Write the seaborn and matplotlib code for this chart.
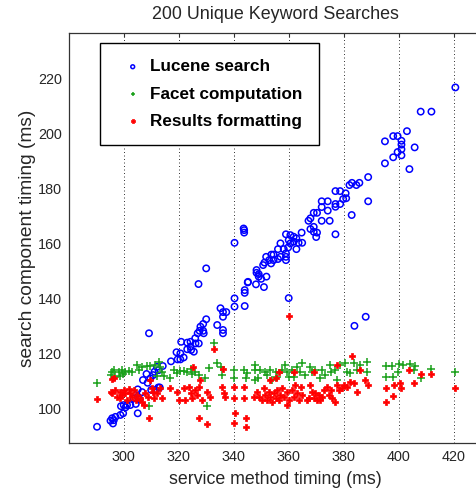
import matplotlib
matplotlib.use("Agg")
import matplotlib.pyplot as plt
import seaborn as sns
import pandas as pd

# ---- data ----
lucene_x = [420.6, 408.0, 411.9, 403.0, 395.0, 398.0, 399.6, 401.0, 401.0, 401.0, 405.8, 399.6, 398.0, 401.0,
            395.0, 403.9, 388.9, 385.7, 383.0, 382.1, 384.6, 380.7, 377.0, 378.7, 388.9, 379.8, 380.9, 378.7,
            377.0, 377.0, 382.9, 372.0, 374.2, 372.0, 374.2, 369.1, 370.3, 367.2, 367.9, 372.0, 374.9, 377.0,
            367.9, 369.1, 369.1, 370.3, 370.0, 364.7, 359.0, 360.6, 361.8, 362.8, 361.8, 363.6, 364.9, 360.0,
            360.6, 362.8, 359.8, 358.2, 357.0, 356.1, 359.0, 359.0, 359.0, 357.0, 354.5, 353.7, 354.5, 352.9,
            356.1, 351.8, 351.2, 350.7, 353.6, 348.3, 348.3, 349.1, 350.0, 351.9, 345.1, 348.1, 351.0, 344.0,
            344.0, 344.0, 360.0, 343.8, 343.8, 343.6, 340.3, 330.0, 327.2, 340.3, 340.3, 335.2, 336.1, 337.3,
            336.1, 330.0, 345.2, 349.1, 334.0, 336.1, 336.1, 328.9, 327.9, 327.6, 328.9, 329.1, 326.9, 326.0,
            324.3, 323.1, 320.9, 326.1, 327.3, 324.3, 325.5, 323.1, 324.5, 320.6, 319.2, 321.8, 320.6, 319.6,
            317.2, 314.2, 312.1, 312.7, 311.2, 310.7, 308.3, 309.7, 307.0, 308.7, 312.6, 313.1, 311.6, 310.0,
            309.2, 305.1, 306.7, 305.1, 303.6, 305.8, 304.4, 302.4, 301.2, 300.0, 299.0, 300.7, 299.8, 298.8,
            297.0, 295.8, 296.4, 295.2, 296.1, 290.3, 305.1, 383.9, 388.0]
lucene_y = [216.7, 207.9, 207.9, 200.8, 197.1, 199.0, 199.0, 197.3, 195.9, 194.2, 194.9, 193.2, 191.3, 192.0,
            189.1, 187.0, 184.1, 182.0, 182.0, 181.2, 181.2, 178.2, 179.0, 179.0, 175.3, 176.1, 176.4, 174.3,
            174.3, 173.3, 170.3, 175.3, 175.3, 173.2, 171.9, 171.1, 171.1, 168.2, 169.1, 168.2, 168.2, 163.3,
            165.2, 166.0, 164.2, 163.9, 162.3, 163.9, 163.3, 163.0, 162.4, 161.8, 160.6, 160.2, 160.2, 161.2,
            160.0, 157.9, 158.5, 157.9, 160.0, 157.9, 156.4, 155.1, 153.9, 155.1, 155.9, 155.9, 153.9, 153.9,
            154.3, 155.1, 153.0, 152.1, 152.7, 150.3, 149.3, 148.8, 147.1, 147.9, 145.8, 145.1, 144.1, 143.0,
            142.0, 137.2, 140.1, 164.8, 163.9, 165.4, 160.2, 150.9, 145.2, 140.0, 137.0, 136.4, 135.0, 135.0,
            133.3, 132.4, 146.0, 147.9, 130.3, 128.5, 127.3, 130.7, 129.7, 128.2, 128.2, 127.3, 127.3, 125.5,
            124.2, 123.9, 124.2, 123.6, 123.6, 122.4, 120.6, 121.5, 121.2, 120.0, 120.4, 118.5, 117.8, 117.8,
            117.1, 115.4, 115.1, 113.9, 113.3, 112.1, 112.5, 110.9, 110.3, 109.3, 107.6, 107.6, 106.7, 106.7,
            127.3, 106.9, 105.9, 104.2, 103.6, 103.3, 101.6, 101.2, 101.2, 101.2, 100.8, 100.4, 98.2, 97.6,
            96.9, 96.4, 95.7, 95.5, 94.5, 93.3, 98.2, 130.0, 133.3]

facet_x = [290.3, 295.8, 296.4, 295.4, 297.0, 298.2, 299.4, 298.8, 299.8, 300.6, 301.8, 303.1, 304.9, 305.5,
           306.7, 308.3, 309.7, 311.2, 313.0, 313.3, 314.0, 314.5, 309.1, 312.1, 318.2, 317.0, 319.4, 320.6,
           322.1, 323.1, 324.3, 324.9, 326.1, 327.3, 329.7, 330.3, 330.9, 334.0, 335.2, 335.8, 333.0, 340.0,
           340.0, 343.9, 344.3, 344.9, 347.9, 348.7, 347.9, 349.7, 347.9, 351.5, 352.1, 353.3, 354.0, 355.2,
           355.8, 357.6, 358.8, 359.2, 360.0, 361.2, 361.8, 363.1, 364.0, 364.9, 366.1, 367.9, 368.5, 369.7,
           371.5, 372.1, 373.3, 374.9, 375.4, 377.0, 377.6, 378.8, 380.6, 381.2, 382.4, 383.6, 384.9, 386.1,
           388.5, 388.5, 395.2, 395.2, 397.6, 398.0, 399.6, 400.0, 401.6, 404.0, 405.5, 406.1, 408.1, 411.8,
           420.6]
facet_y = [109.3, 113.3, 113.9, 112.1, 111.5, 113.3, 113.9, 111.7, 112.5, 113.3, 113.6, 113.3, 115.7, 113.9,
           115.1, 115.4, 115.4, 115.7, 116.9, 115.1, 113.3, 111.7, 100.8, 111.7, 113.9, 110.9, 112.7, 113.7,
           113.7, 113.3, 114.2, 112.5, 113.3, 112.1, 111.1, 100.8, 114.5, 116.4, 115.1, 112.1, 123.6, 113.9,
           110.9, 113.9, 110.9, 112.7, 113.9, 110.9, 115.7, 113.9, 110.3, 113.3, 112.1, 113.9, 110.3, 113.3,
           111.5, 113.9, 115.7, 113.3, 111.5, 113.9, 111.5, 115.1, 113.3, 116.4, 112.1, 115.1, 113.3, 113.9,
           110.9, 113.9, 112.1, 115.7, 113.3, 113.9, 110.3, 115.7, 116.4, 113.3, 112.7, 116.4, 113.9, 115.7,
           116.9, 113.3, 115.4, 111.3, 115.4, 111.3, 113.3, 116.1, 115.7, 116.1, 113.9, 115.4, 110.9, 114.2,
           113.3]

results_x = [290.3, 295.8, 296.4, 295.2, 295.8, 297.0, 297.6, 298.5, 298.8, 299.4, 300.0, 300.6, 301.2, 301.8,
             302.4, 303.1, 303.9, 304.3, 304.9, 306.1, 306.7, 307.3, 307.9, 308.7, 309.1, 309.7, 310.3, 310.7,
             310.9, 312.1, 313.3, 314.0, 317.0, 319.4, 320.0, 321.8, 322.4, 323.6, 324.3, 324.9, 325.2, 326.1,
             326.7, 327.3, 327.9, 328.5, 330.3, 331.5, 332.7, 335.8, 336.1, 336.4, 337.0, 327.3, 330.3, 340.0,
             340.0, 340.0, 340.6, 343.6, 343.9, 344.3, 344.3, 347.3, 360.0, 348.5, 349.1, 350.3, 350.9, 351.5,
             352.1, 352.7, 353.3, 354.0, 354.5, 355.2, 355.8, 356.4, 357.0, 357.6, 358.2, 359.2, 359.4, 360.0,
             361.2, 361.8, 362.4, 363.1, 363.6, 364.3, 364.9, 366.7, 367.3, 367.9, 368.5, 369.1, 369.7, 370.3,
             370.9, 371.5, 372.1, 372.7, 374.0, 374.5, 375.2, 375.8, 377.0, 377.4, 377.6, 378.2, 379.4, 380.0,
             381.2, 382.4, 383.1, 383.6, 384.9, 386.1, 387.9, 388.7, 353.3, 355.2, 356.4, 361.8, 369.1, 395.2,
             395.2, 398.0, 398.4, 400.4, 400.9, 403.6, 405.5, 408.1, 411.8, 420.6]
results_y = [103.3, 110.5, 110.9, 106.0, 105.5, 106.7, 104.2, 106.0, 103.6, 104.8, 106.7, 105.5, 103.0, 106.9,
             105.5, 104.2, 106.7, 103.0, 104.8, 103.6, 102.4, 101.2, 105.5, 104.2, 96.4, 110.3, 107.3, 106.0,
             103.6, 105.5, 107.3, 103.6, 107.3, 106.0, 103.0, 107.3, 103.0, 107.9, 105.5, 103.6, 115.1, 106.7,
             104.8, 107.9, 110.3, 103.0, 106.0, 104.2, 121.5, 107.9, 114.2, 105.5, 104.2, 96.4, 94.3, 107.6,
             103.6, 94.8, 98.2, 107.6, 103.6, 96.4, 93.3, 104.2, 133.6, 106.0, 104.2, 103.0, 107.3, 104.8,
             103.0, 106.0, 104.2, 102.4, 105.5, 103.6, 106.7, 103.0, 104.8, 107.3, 104.2, 101.2, 106.0, 103.0,
             106.7, 104.2, 108.5, 105.5, 103.0, 107.9, 104.8, 103.0, 103.6, 108.5, 106.0, 103.6, 105.5, 103.0,
             104.8, 103.0, 104.2, 106.7, 107.9, 104.8, 106.7, 103.6, 102.4, 115.7, 108.5, 106.7, 107.3, 108.5,
             107.9, 109.7, 119.0, 109.1, 106.0, 113.9, 110.3, 108.5, 110.3, 110.9, 113.3, 113.3, 113.3, 107.3,
             102.4, 104.5, 108.5, 109.1, 107.3, 113.9, 109.1, 112.5, 112.5, 107.3]

series_names = ["Lucene search", "Facet computation", "Results formatting"]
x_ticks = [300, 320, 340, 360, 380, 400, 420]
y_ticks = [100, 120, 140, 160, 180, 200, 220]

df_l = pd.DataFrame({"x": lucene_x, "y": lucene_y})
df_f = pd.DataFrame({"x": facet_x, "y": facet_y})
df_r = pd.DataFrame({"x": results_x, "y": results_y})

sns.set_theme(style="white")
plt.rcParams["font.family"] = ["Liberation Sans", "DejaVu Sans"]

fig = plt.figure(figsize=(4.76, 4.88), dpi=100)
ax = fig.add_axes([68.7 / 476, 45 / 488, 412.5 / 476, 410.3 / 488])

sns.scatterplot(data=df_l, x="x", y="y", ax=ax, marker="o", s=21, facecolors="none",
                edgecolor="#0000ff", linewidth=1.1, label=series_names[0], zorder=3)
sns.scatterplot(data=df_f, x="x", y="y", ax=ax, marker="+", s=30, color="#1aa01a",
                linewidth=1.1, label=series_names[1], zorder=3)
sns.scatterplot(data=df_r, x="x", y="y", ax=ax, marker="P", s=22, color="#ff0000",
                edgecolor="#ff0000", linewidth=0.5, label=series_names[2], zorder=3)

ax.set_xlim(280, 430)
ax.set_ylim(87.4, 236.6)
ax.set_xticks(x_ticks)
ax.set_yticks(y_ticks)
txt = "#262626"
ax.tick_params(direction="in", length=3, width=0.8, top=True, right=True,
               labelsize=10.4, colors="#333333", labelcolor=txt, pad=5)
ax.xaxis.grid(True, linestyle=(0, (1, 2.6)), color="#333333", linewidth=0.7)
ax.yaxis.grid(False)
for sp in ax.spines.values():
    sp.set_color("#333333")
    sp.set_linewidth(0.9)

ax.set_xlabel("service method timing (ms)", fontsize=12.8, color=txt, labelpad=5)
ax.set_ylabel("search component timing (ms)", fontsize=13.8, color=txt, labelpad=1.5)
ax.set_title("200 Unique Keyword Searches", fontsize=12.9, color=txt, pad=9.6)

leg = ax.legend(loc="upper left", bbox_to_anchor=(100 / 476, 1 - 43 / 488),
                bbox_transform=fig.transFigure, borderaxespad=0, frameon=True,
                fancybox=False, edgecolor="black", framealpha=1,
                prop={"weight": "bold", "size": 12.3}, markerscale=0.6,
                handlelength=1.93, handletextpad=0.05, borderpad=0.95, labelspacing=0.72)
leg.get_frame().set_linewidth(1.0)
for t in leg.get_texts():
    t.set_color("black")

fig.savefig("out.png", dpi=100)
